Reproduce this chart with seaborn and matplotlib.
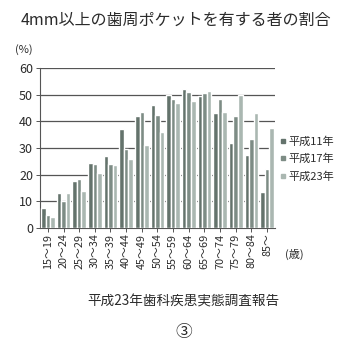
import matplotlib
matplotlib.use("Agg")
import matplotlib.pyplot as plt
from matplotlib.lines import Line2D
import seaborn as sns
import pandas as pd

# Age bands and share (%) of people with periodontal pockets of 4mm or deeper
age_groups = ["15～19", "20～24", "25～29", "30～34", "35～39", "40～44", "45～49",
              "50～54", "55～59", "60～64", "65～69", "70～74", "75～79", "80～84", "85～"]
years = ["平成11年", "平成17年", "平成23年"]
h11 = [7.5, 13.0, 17.5, 24.5, 27.0, 37.0, 42.0, 46.0, 50.0, 52.0, 49.5, 43.0, 32.0, 27.5, 13.5]
h17 = [5.0, 10.0, 18.5, 24.0, 24.0, 29.5, 43.5, 42.5, 48.5, 51.0, 50.5, 48.5, 42.0, 33.5, 22.0]
h23 = [4.3, 13.0, 14.0, 20.5, 23.5, 26.0, 31.0, 36.0, 47.0, 47.5, 51.5, 43.5, 50.0, 43.0, 37.5]
y_ticks = [0, 10, 20, 30, 40, 50, 60]

colors = ["#64736c", "#7d8c85", "#aab7b1"]
text_color = "#2b2b2b"

sns.set_theme(style="white")
plt.rcParams["font.family"] = ["Noto Sans CJK JP", "DejaVu Sans"]

df = pd.DataFrame({
    "age": age_groups * 3,
    "year": [years[0]] * len(age_groups) + [years[1]] * len(age_groups) + [years[2]] * len(age_groups),
    "value": h11 + h17 + h23,
})

fig = plt.figure(figsize=(3.48, 3.45), dpi=100)
ax = fig.add_axes([0.115, 0.339, 0.675, 0.464])

sns.barplot(data=df, x="age", y="value", hue="year", palette=colors,
            order=age_groups, hue_order=years, width=0.88, ax=ax,
            legend=False, zorder=3, saturation=1)

ax.set_ylim(0, 60)
ax.set_xlim(-0.5, len(age_groups) - 0.5)
ax.set_yticks(y_ticks)
ax.set_yticklabels([str(t) for t in y_ticks], fontsize=9, color=text_color)
ax.set_xticks(range(len(age_groups)))
ax.set_xticklabels(age_groups, rotation=90, fontsize=7.8, color=text_color)
ax.set_xlabel("")
ax.set_ylabel("")

for t in y_ticks[1:]:
    ax.axhline(t, color="#555555", lw=0.9, zorder=2)

for side in ["top", "right"]:
    ax.spines[side].set_visible(False)
for side in ["left", "bottom"]:
    ax.spines[side].set_color("#555555")
    ax.spines[side].set_linewidth(0.8)

ax.tick_params(axis="y", left=True, length=3, width=0.7, color="#555555", pad=2)
ax.tick_params(axis="x", bottom=True, length=3, width=0.7, color="#555555", pad=1)

handles = [Line2D([0], [0], marker="s", linestyle="none", markersize=3.5,
                  markerfacecolor=c, markeredgecolor=c) for c in colors]
fig.legend(handles, years, loc="center left", bbox_to_anchor=(0.805, 0.539),
           frameon=False, fontsize=8, handlelength=0.5, handletextpad=0.25,
           labelspacing=0.6, borderpad=0, borderaxespad=0, labelcolor=text_color)

fig.text(0.505, 0.942, "4mm以上の歯周ポケットを有する者の割合", ha="center", va="center",
         fontsize=11.5, color=text_color)
fig.text(0.068, 0.855, "(%)", ha="center", va="center", fontsize=8, color=text_color)
fig.text(0.845, 0.262, "(歳)", ha="center", va="center", fontsize=8, color=text_color)
fig.text(0.527, 0.125, "平成23年歯科疾患実態調査報告", ha="center", va="center",
         fontsize=9.8, color=text_color)
fig.text(0.527, 0.035, "③", ha="center", va="center", fontsize=12, color=text_color)

fig.savefig("out.png", dpi=100)
